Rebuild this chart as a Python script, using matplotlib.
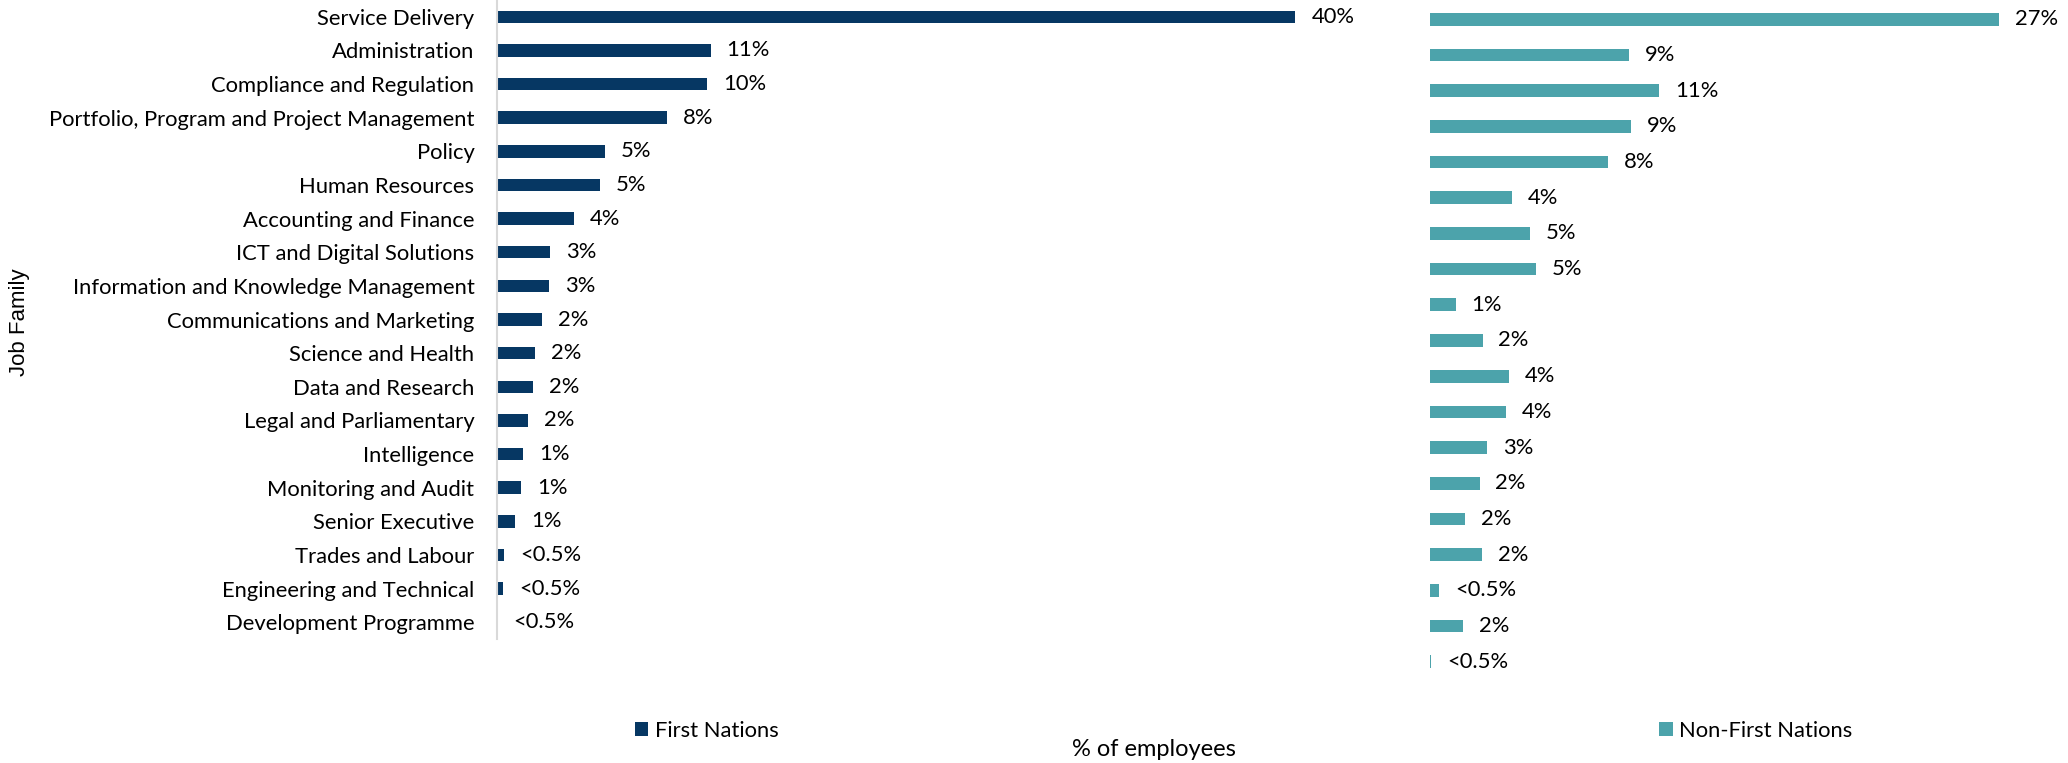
import matplotlib
matplotlib.use("Agg")
import matplotlib.pyplot as plt

# Share of employees by job family, First Nations vs Non-First Nations
job_families = [
    "Service Delivery",
    "Administration",
    "Compliance and Regulation",
    "Portfolio, Program and Project Management",
    "Policy",
    "Human Resources",
    "Accounting and Finance",
    "ICT and Digital Solutions",
    "Information and Knowledge Management",
    "Communications and Marketing",
    "Science and Health",
    "Data and Research",
    "Legal and Parliamentary",
    "Intelligence",
    "Monitoring and Audit",
    "Senior Executive",
    "Trades and Labour",
    "Engineering and Technical",
    "Development Programme",
]
first_nations = [39.6, 10.6, 10.45, 8.45, 5.38, 5.13, 3.81, 2.63, 2.59, 2.26,
                 1.92, 1.81, 1.53, 1.30, 1.22, 0.93, 0.38, 0.33, 0.05]
non_first_nations = [26.54, 9.28, 10.69, 9.38, 8.29, 3.83, 4.65, 4.94, 1.19, 2.45,
                     3.70, 3.54, 2.66, 2.31, 1.62, 2.44, 0.41, 1.52, 0.05]

NAVY = "#063763"
TEAL = "#4ca3ab"
FONT = "Lato"
FS = 15.8

W, H = 2068, 763
fig = plt.figure(figsize=(W / 100, H / 100), dpi=100)


def px_axes(left, top, right, bottom):
    return fig.add_axes([left / W, 1 - bottom / H, (right - left) / W, (bottom - top) / H])


def pct_label(v):
    return "<0.5%" if v < 0.5 else f"{v:.0f}%"


def draw_panel(ax, values, color, height, xmax, label):
    y = range(len(values))
    bars = ax.barh(y, values, height=height, color=color, label=label)
    ax.set_ylim(len(values) - 0.5, -0.5)
    ax.set_xlim(0, xmax)
    for b, v in zip(bars, values):
        ax.annotate(pct_label(v), (v, b.get_y() + b.get_height() / 2),
                    xytext=(11.5, 0), textcoords="offset points",
                    ha="left", va="center", fontsize=FS, family=FONT, color="black")
    for s in ["top", "right", "bottom", "left"]:
        ax.spines[s].set_visible(False)
    ax.set_xticks([])
    return bars


ax1 = px_axes(496.7, 0, 1400, 639)
bars1 = draw_panel(ax1, first_nations, NAVY, 0.37, (1400 - 496.7) / 20.17, "First Nations")
ax1.spines["left"].set_visible(True)
ax1.spines["left"].set_color("#d9d9d9")
ax1.spines["left"].set_linewidth(1.5)
ax1.set_yticks(range(len(job_families)))
ax1.set_yticklabels(job_families, fontsize=FS, family=FONT)
ax1.tick_params(axis="y", length=0, pad=16)

ax2 = px_axes(1430, 1.5, 2060, 679.5)
bars2 = draw_panel(ax2, non_first_nations, TEAL, 0.355, 630 / 21.43, "Non-First Nations")
ax2.set_yticks([])

leg_kw = dict(frameon=False, loc="center left", handlelength=0.62,
              handleheight=0.62, handletextpad=0.3, borderpad=0, borderaxespad=0,
              prop={"family": FONT, "size": FS})
fig.legend(handles=[bars1], bbox_to_anchor=(634.8 / W, 1 - 731 / H), **leg_kw)
fig.legend(handles=[bars2], bbox_to_anchor=(1659 / W, 1 - 731 / H), **leg_kw)

fig.text(1154 / W, 1 - 749 / H, "% of employees", ha="center", va="center",
         fontsize=17, family=FONT)
fig.text(20 / W, 1 - 322 / H, "Job Family", ha="center", va="center",
         rotation=90, fontsize=16, family="Liberation Sans")

fig.savefig("out.png", dpi=100)
